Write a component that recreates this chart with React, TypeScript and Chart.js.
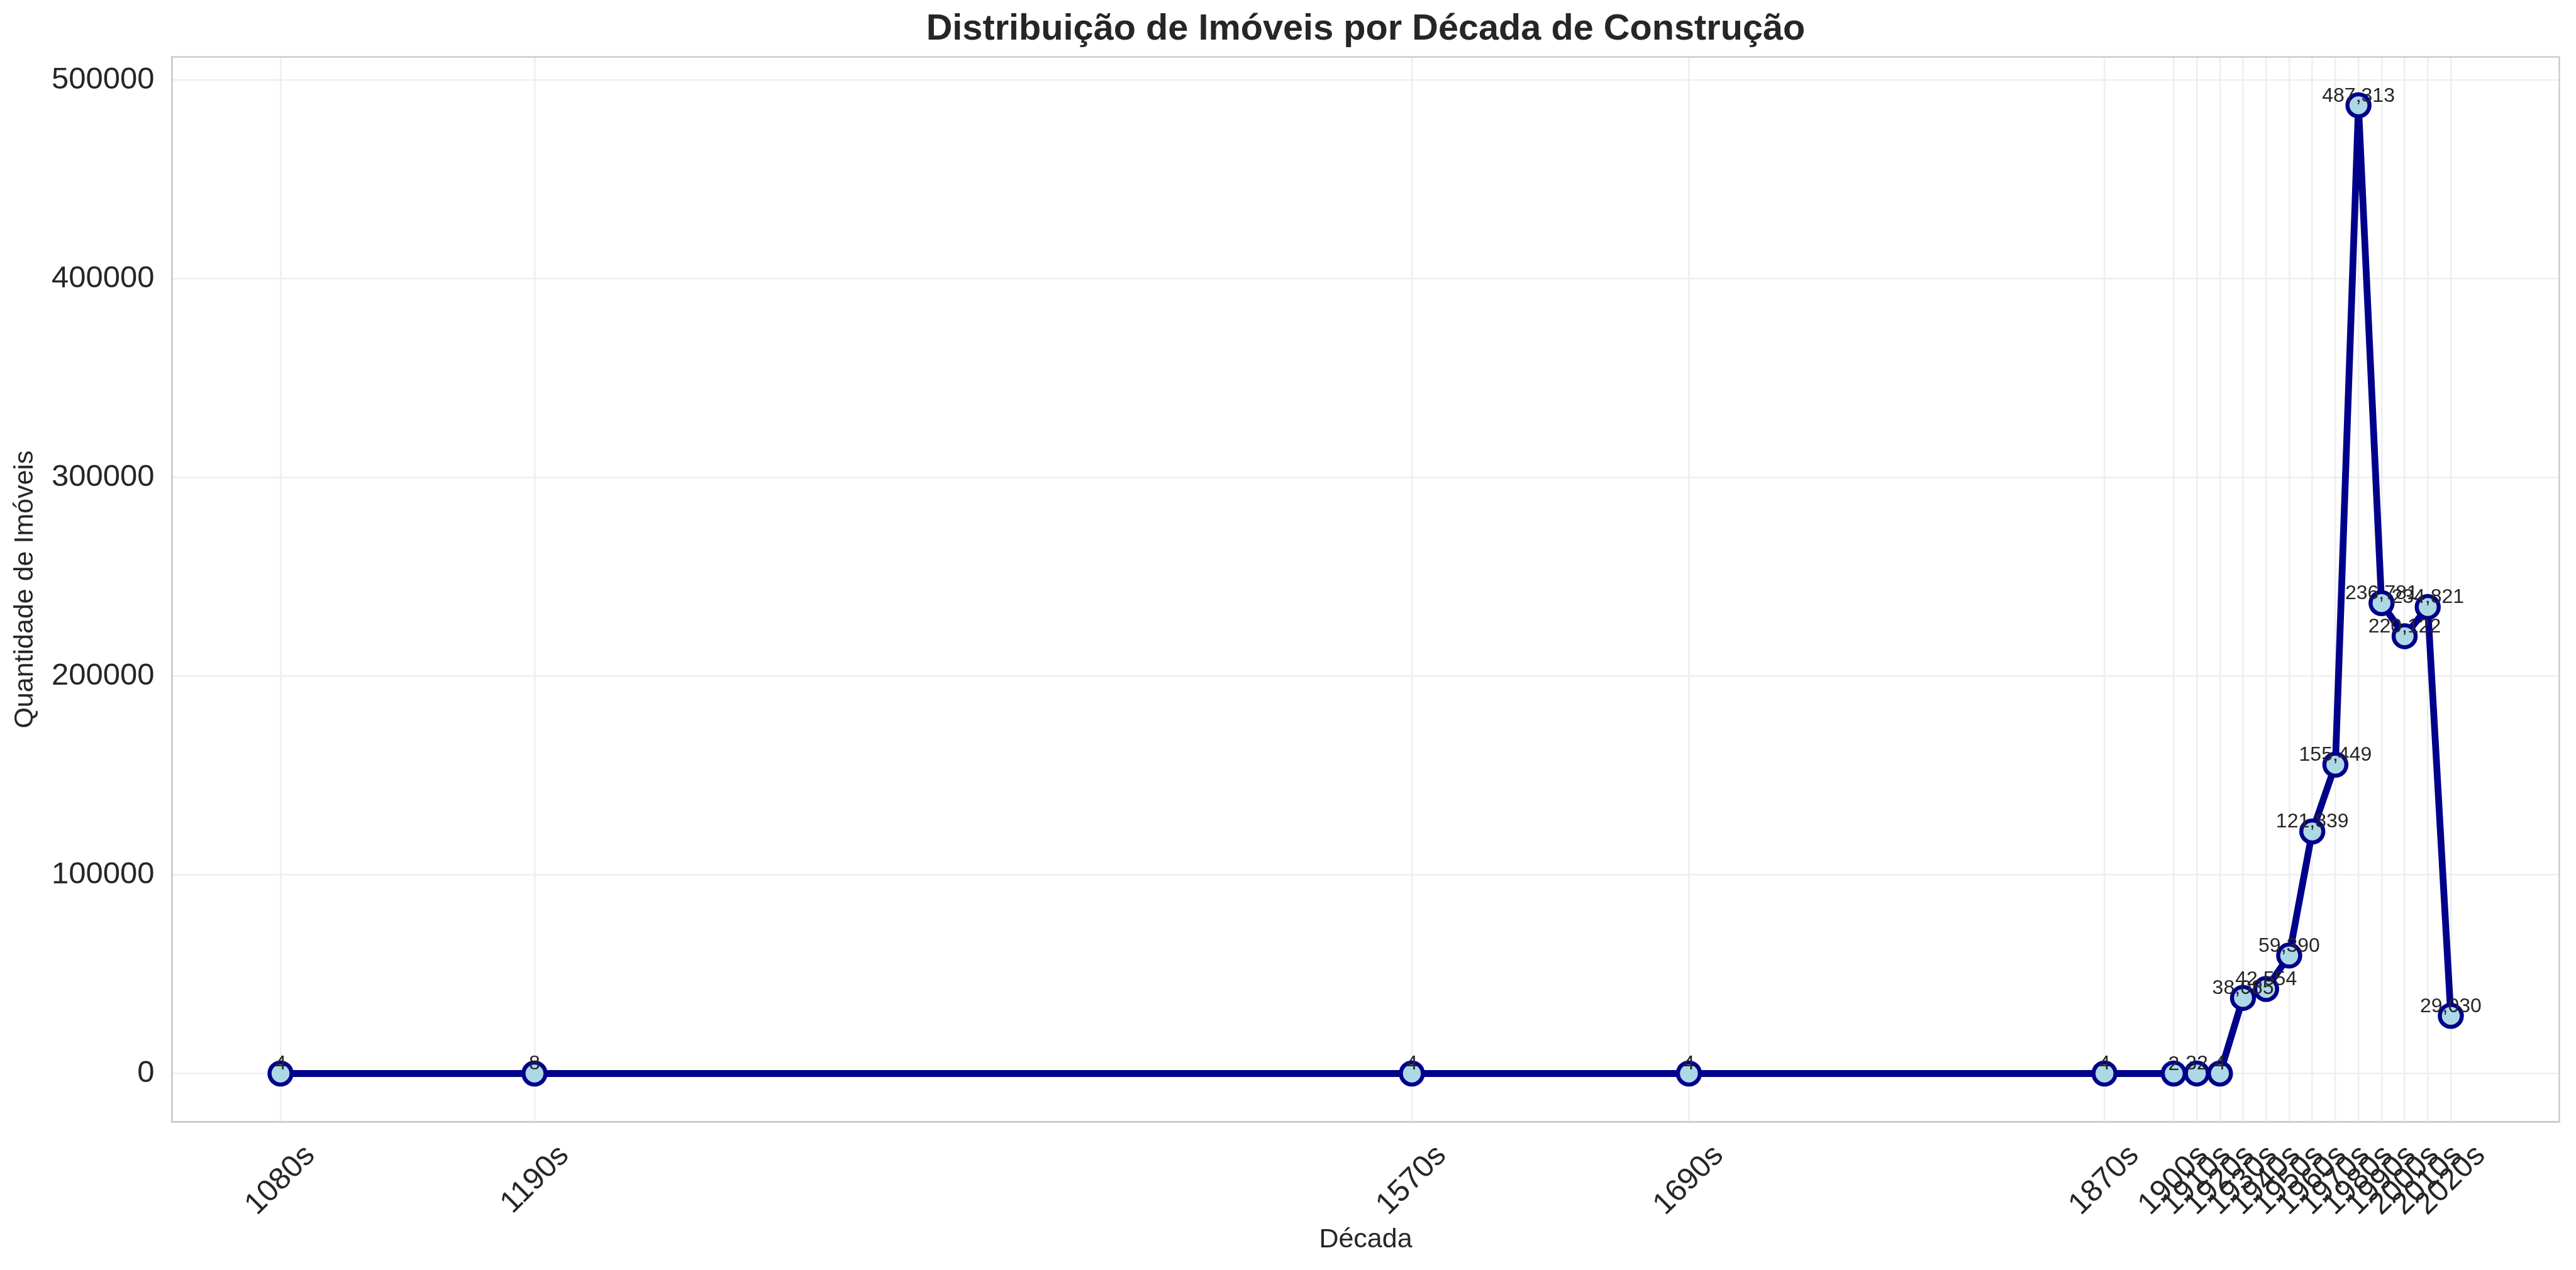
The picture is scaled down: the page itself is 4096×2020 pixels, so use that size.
import React, { useEffect, useRef } from 'react';
import { Chart, registerables } from 'chart.js';

Chart.register(...registerables);

// ---- data ----
const decades: number[] = [1080, 1190, 1570, 1690, 1870, 1900, 1910, 1920, 1930, 1940, 1950, 1960, 1970, 1980, 1990, 2000, 2010, 2020];
const decadeLabels: string[] = ['1080s', '1190s', '1570s', '1690s', '1870s', '1900s', '1910s', '1920s', '1930s', '1940s', '1950s', '1960s', '1970s', '1980s', '1990s', '2000s', '2010s', '2020s'];
const counts: number[] = [4, 8, 4, 4, 4, 2, 32, 4, 38085, 42554, 59390, 121839, 155449, 487313, 236781, 220122, 234821, 29030];
const yTickValues: number[] = [0, 100000, 200000, 300000, 400000, 500000];
const chartTitle = 'Distribuição de Imóveis por Década de Construção';
const xAxisTitle = 'Década';
const yAxisTitle = 'Quantidade de Imóveis';

// ---- layout / style ----
const W = 4096;
const H = 2020;
const FONT = '"Liberation Sans", Arial, sans-serif';
const TEXT = '#262626';
const LINE = '#00008B';
const MARKER_FILL = '#ADD8E6';
const GRID = '#EEEEEE';
const SPINE = '#CCCCCC';
const TICK_SIZE = 49;
const LABEL_SIZE = 43;
const TITLE_SIZE = 57.7;
const DATA_LABEL_SIZE = 32;

const xRange = decades[decades.length - 1] - decades[0];
const xMin = decades[0] - 0.05 * xRange;
const xMax = decades[decades.length - 1] + 0.05 * xRange;
const yLo = Math.min(...counts);
const yHi = Math.max(...counts);
const yMin = yLo - 0.05 * (yHi - yLo);
const yMax = yHi + 0.05 * (yHi - yLo);

const bgPlugin = {
  id: 'bg',
  beforeDraw(chart: any) {
    const ctx = chart.ctx;
    ctx.save();
    ctx.fillStyle = '#ffffff';
    ctx.fillRect(0, 0, chart.width, chart.height);
    ctx.restore();
  },
};

const framePlugin = {
  id: 'frame',
  beforeDatasetsDraw(chart: any) {
    const { ctx, chartArea } = chart;
    ctx.save();
    ctx.strokeStyle = SPINE;
    ctx.lineWidth = 2.5;
    ctx.strokeRect(chartArea.left, chartArea.top, chartArea.right - chartArea.left, chartArea.bottom - chartArea.top);
    ctx.restore();
  },
};

const titlePlugin = {
  id: 'customTitle',
  afterDraw(chart: any) {
    const { ctx, chartArea } = chart;
    ctx.save();
    ctx.fillStyle = TEXT;
    ctx.font = `bold ${TITLE_SIZE}px ${FONT}`;
    ctx.textAlign = 'center';
    ctx.textBaseline = 'middle';
    ctx.fillText(chartTitle, (chartArea.left + chartArea.right) / 2, 47);
    ctx.restore();
  },
};

const dataLabelPlugin = {
  id: 'dataLabels',
  afterDatasetsDraw(chart: any) {
    const { ctx } = chart;
    const meta = chart.getDatasetMeta(0);
    ctx.save();
    ctx.fillStyle = TEXT;
    ctx.font = `${DATA_LABEL_SIZE}px ${FONT}`;
    ctx.textAlign = 'center';
    ctx.textBaseline = 'alphabetic';
    meta.data.forEach((pt: any, i: number) => {
      ctx.fillText(counts[i].toLocaleString('en-US'), pt.x, pt.y - 6);
    });
    ctx.restore();
  },
};

export default function App() {
  const ref = useRef<HTMLCanvasElement | null>(null);

  useEffect(() => {
    if (!ref.current) return;
    const labelWidth = 2.724 * TICK_SIZE;
    const chart = new Chart(ref.current, {
      type: 'line',
      data: {
        datasets: [
          {
            label: yAxisTitle,
            data: decades.map((d, i) => ({ x: d, y: counts[i] })),
            borderColor: LINE,
            borderWidth: 10.8,
            backgroundColor: MARKER_FILL,
            pointBackgroundColor: MARKER_FILL,
            pointBorderColor: LINE,
            pointBorderWidth: 6.5,
            pointRadius: 17.5,
            pointHoverRadius: 17.5,
            tension: 0,
            fill: false,
          },
        ],
      },
      options: {
        responsive: false,
        devicePixelRatio: 1,
        animation: false,
        events: [],
        layout: { padding: { top: 90.5, right: 26.5, bottom: 0, left: 0 } },
        plugins: {
          legend: { display: false },
          tooltip: { enabled: false },
          title: { display: false },
        },
        scales: {
          x: {
            type: 'linear',
            min: xMin,
            max: xMax,
            afterBuildTicks(scale: any) {
              scale.ticks = decades.map((v) => ({ value: v }));
            },
            afterFit(scale: any) {
              scale.height = 235.5;
            },
            ticks: {
              autoSkip: false,
              minRotation: 45,
              maxRotation: 45,
              labelOffset: 0.7071 * labelWidth / 2,
              padding: 25,
              color: TEXT,
              font: { family: FONT, size: TICK_SIZE },
              callback: (value: any) => {
                const idx = decades.indexOf(Number(value));
                return idx >= 0 ? decadeLabels[idx] : '';
              },
            },
            grid: { color: GRID, lineWidth: 2.5, drawTicks: false },
            border: { display: true, color: SPINE, width: 2.5 },
            title: {
              display: true,
              text: xAxisTitle,
              color: TEXT,
              font: { family: FONT, size: LABEL_SIZE },
              padding: { top: 0, bottom: 22 },
            },
          },
          y: {
            type: 'linear',
            min: yMin,
            max: yMax,
            afterBuildTicks(scale: any) {
              scale.ticks = yTickValues.map((v) => ({ value: v }));
            },
            afterFit(scale: any) {
              scale.width = 273.5;
            },
            ticks: {
              padding: 28,
              color: TEXT,
              font: { family: FONT, size: TICK_SIZE },
              callback: (value: any) => String(value),
            },
            grid: { color: GRID, lineWidth: 2.5, drawTicks: false },
            border: { display: true, color: SPINE, width: 2.5 },
            title: {
              display: true,
              text: yAxisTitle,
              color: TEXT,
              font: { family: FONT, size: LABEL_SIZE },
              padding: { top: 14, bottom: 0 },
            },
          },
        },
      } as any,
      plugins: [bgPlugin, framePlugin, dataLabelPlugin, titlePlugin],
    });
    return () => chart.destroy();
  }, []);

  return (
    <div style={{ position: 'fixed', left: 0, top: 0, width: W, height: H, background: '#ffffff' }}>
      <canvas ref={ref} width={W} height={H} style={{ width: W, height: H, display: 'block' }} />
    </div>
  );
}
